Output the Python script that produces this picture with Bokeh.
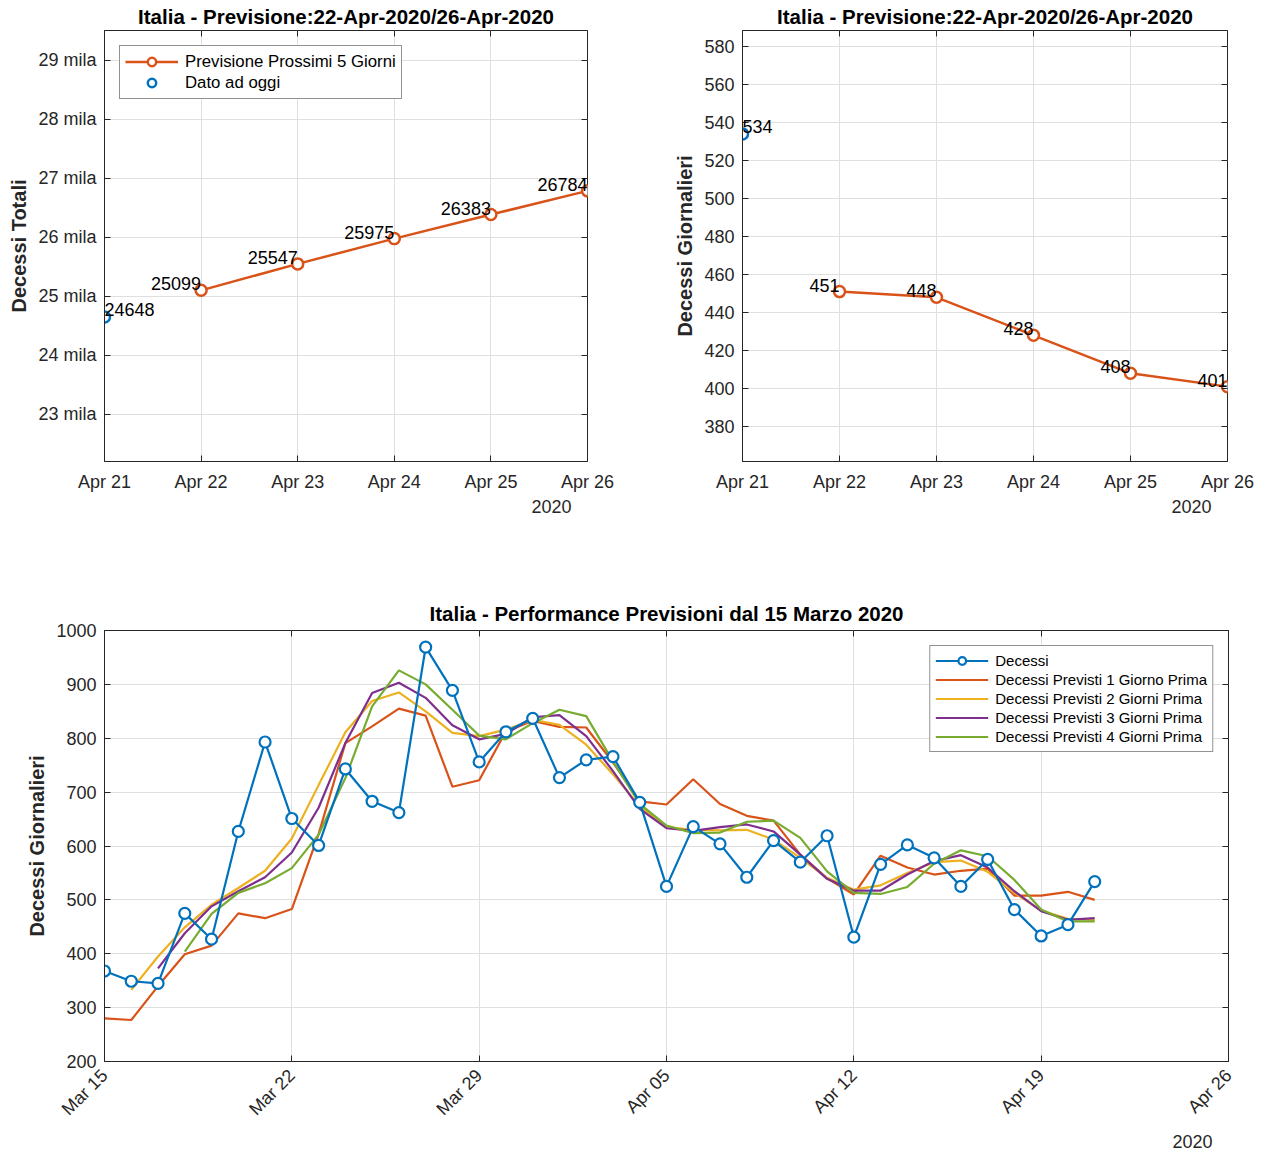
import math
import pandas as pd
from bokeh.plotting import figure
from bokeh.layouts import column, row
from bokeh.models import (ColumnDataSource, Range1d, FixedTicker, DatetimeTickFormatter,
                          LinearAxis, DatetimeAxis, Legend, LegendItem, LabelSet, Title,
                          CustomJSTickFormatter)
from bokeh.core.properties import value
from bokeh.embed import file_html
from bokeh.resources import INLINE

# ---------------- DATA ----------------
forecast_dates = ["2020-04-21", "2020-04-22", "2020-04-23", "2020-04-24", "2020-04-25", "2020-04-26"]
today_total = [24648]
forecast_total = [25099, 25547, 25975, 26383, 26784]
today_daily = [534]
forecast_daily = [451, 448, 428, 408, 401]

total_yticks = [23000, 24000, 25000, 26000, 27000, 28000, 29000]
total_ylabels = ["23 mila", "24 mila", "25 mila", "26 mila", "27 mila", "28 mila", "29 mila"]
daily_yticks = [380, 400, 420, 440, 460, 480, 500, 520, 540, 560, 580]

perf_last_day = "2020-04-21"
decessi = [368, 349, 345, 475, 427, 627, 793, 651, 601, 743, 683, 662, 969, 889, 756, 812, 837,
           727, 760, 766, 681, 525, 636, 604, 542, 610, 570, 619, 431, 566, 602, 578, 525, 575,
           482, 433, 454, 534]
prev1 = [280, 277, 340, 399, 415, 475, 466, 483, 622, 791, 822, 855, 842, 710, 722, 813, 832,
         821, 820, 755, 683, 677, 724, 678, 656, 647, 584, 540, 510, 582, 560, 547, 554, 558,
         508, 508, 515, 500]
prev2 = [333, 395, 449, 491, 522, 554, 614, 713, 811, 869, 885, 850, 810, 804, 816, 834,
         825, 788, 733, 674, 635, 630, 629, 630, 612, 578, 541, 519, 527, 550, 570, 573, 552,
         513, 480, 465, 463]
prev3 = [373, 438, 488, 516, 542, 588, 671, 791, 884, 903, 875, 824, 798, 808, 839,
         843, 804, 739, 669, 633, 628, 635, 640, 627, 584, 539, 517, 517, 547, 572, 583, 560,
         516, 479, 463, 466]
prev4 = [404, 474, 513, 531, 559, 621, 726, 859, 926, 900, 853, 805, 798, 828,
         853, 841, 757, 678, 638, 624, 625, 645, 647, 615, 553, 513, 511, 524, 567, 592, 581,
         537, 482, 460, 460]
perf_xticks = ["2020-03-15", "2020-03-22", "2020-03-29", "2020-04-05", "2020-04-12", "2020-04-19", "2020-04-26"]
perf_yticks = [200, 300, 400, 500, 600, 700, 800, 900, 1000]
perf_names = ["Decessi", "Decessi Previsti 1 Giorno Prima", "Decessi Previsti 2 Giorni Prima",
              "Decessi Previsti 3 Giorni Prima", "Decessi Previsti 4 Giorni Prima"]

# ---------------- STYLE ----------------
FONT = "Liberation Sans"
AXC = "#262626"
GRID = "#dfdfdf"
BLUE = "#0072BD"
ORANGE = "#D95319"
YELLOW = "#EDB120"
PURPLE = "#7E2F8E"
GREEN = "#77AC30"


def ms(d):
    return int(pd.Timestamp(d).value // 10**6)


def make_fig(title, xr, yr, fw, fh, bl, br, bt, bb, title_standoff):
    p = figure(x_axis_type="datetime", x_range=Range1d(ms(xr[0]), ms(xr[1])),
               y_range=Range1d(yr[0], yr[1]), frame_width=fw, frame_height=fh,
               min_border_left=bl, min_border_right=br, min_border_top=bt, min_border_bottom=bb,
               output_backend="svg", toolbar_location=None, title=title)
    p.title.text_font = FONT
    p.title.text_font_size = "20.5px"
    p.title.text_font_style = "bold"
    p.title.text_color = "black"
    p.title.align = "center"
    p.title.standoff = title_standoff
    p.outline_line_color = AXC
    p.outline_line_width = 1
    p.outline_line_alpha = 1
    p.background_fill_color = "white"
    p.border_fill_color = "white"
    return p


def style_axes(p, xticks, yticks, ylabel, yoverrides=None, rot=0, year_standoff=6):
    xt = FixedTicker(ticks=[ms(d) for d in xticks])
    yt = FixedTicker(ticks=yticks)
    p.xaxis.ticker = xt
    p.xaxis.formatter = DatetimeTickFormatter(days="%b %d", months="%b %d", years="%b %d",
                                              hours="%b %d", hourmin="%b %d")
    p.yaxis.ticker = yt
    if yoverrides:
        p.yaxis.major_label_overrides = yoverrides
    p.yaxis.axis_label = ylabel
    for ax in list(p.xaxis) + list(p.yaxis):
        ax.axis_line_color = AXC
        ax.major_tick_line_color = AXC
        ax.major_tick_in = 6
        ax.major_tick_out = 0
        ax.minor_tick_in = 0
        ax.minor_tick_out = 0
        ax.major_label_text_font = FONT
        ax.major_label_text_font_size = "18px"
        ax.major_label_text_color = AXC
        ax.major_label_standoff = 8
        ax.axis_label_text_font = FONT
        ax.axis_label_text_font_size = "20px"
        ax.axis_label_text_font_style = "bold"
        ax.axis_label_text_color = AXC
        ax.axis_label_standoff = 5
    p.xaxis.major_label_standoff = 10
    if rot:
        p.xaxis.major_label_orientation = rot
        p.xaxis.major_label_standoff = 11
    p.xgrid.grid_line_color = GRID
    p.ygrid.grid_line_color = GRID
    # tick marks on the top and right edges of the box
    top = DatetimeAxis(ticker=xt, formatter=CustomJSTickFormatter(code="return ''"))
    right = LinearAxis(ticker=yt, formatter=CustomJSTickFormatter(code="return ''"))
    for ax in (top, right):
        ax.axis_line_color = None
        ax.major_tick_line_color = AXC
        ax.major_tick_in = 6
        ax.major_tick_out = 0
        ax.minor_tick_in = 0
        ax.minor_tick_out = 0
        ax.major_label_text_font_size = "0px"
        ax.major_label_standoff = 0
    p.add_layout(top, "above")
    p.add_layout(right, "right")
    yr = Title(text="2020", align="right", offset=16, text_font=FONT, text_font_size="18px",
               text_font_style="normal", text_color=AXC, standoff=year_standoff)
    p.add_layout(yr, "below")


def style_legend(lg, font_size, row_h, pad):
    lg.label_text_font = FONT
    lg.label_text_font_size = font_size
    lg.label_text_color = "black"
    lg.border_line_color = AXC
    lg.border_line_width = 1
    lg.background_fill_color = "white"
    lg.background_fill_alpha = 1
    lg.padding = pad
    lg.spacing = 0
    lg.label_height = row_h
    lg.glyph_height = row_h
    lg.glyph_width = 53
    lg.label_standoff = 7
    lg.margin = 15


def forecast_panel(title, today_vals, fc_vals, yr, yticks, ylabel, overrides, bl, br, fw):
    p = make_fig(title, (forecast_dates[0], forecast_dates[-1]), yr, fw, 431, bl, br, 30, 65, 5)
    style_axes(p, forecast_dates, yticks, ylabel, overrides)
    s_today = ColumnDataSource(dict(x=pd.to_datetime(forecast_dates[:1]), y=today_vals,
                                    label=[str(v) for v in today_vals]))
    s_fc = ColumnDataSource(dict(x=pd.to_datetime(forecast_dates[1:]), y=fc_vals,
                                 label=[str(v) for v in fc_vals]))
    ln = p.line("x", "y", source=s_fc, line_color=ORANGE, line_width=2.5)
    mk = p.scatter("x", "y", source=s_fc, marker="circle", size=11, line_color=ORANGE,
                   fill_color="white", line_width=2.5)
    bt = p.scatter("x", "y", source=s_today, marker="circle", size=11, line_color=BLUE,
                   fill_color="white", line_width=2.5)
    p.add_layout(LabelSet(x="x", y="y", text="label", source=s_fc, text_align="right",
                          text_baseline="bottom", y_offset=0, text_font=value(FONT),
                          text_font_size=value("18px"), text_color="black"))
    p.add_layout(LabelSet(x="x", y="y", text="label", source=s_today, text_align="left",
                          text_baseline="bottom", y_offset=1, text_font=value(FONT),
                          text_font_size=value("18px"), text_color="black"))
    return p, ln, mk, bt


p1, ln1, mk1, bt1 = forecast_panel("Italia - Previsione:22-Apr-2020/26-Apr-2020", today_total,
                                   forecast_total, (22200, 29500), total_yticks, "Decessi Totali",
                                   dict(zip(total_yticks, total_ylabels)), 104, 40, 483)
lg1 = Legend(items=[LegendItem(label="Previsione Prossimi 5 Giorni", renderers=[ln1, mk1]),
                    LegendItem(label="Dato ad oggi", renderers=[bt1])],
             location="top_left")
style_legend(lg1, "16.8px", 21, 5)
p1.add_layout(lg1)

p2, ln2, mk2, bt2 = forecast_panel("Italia - Previsione:22-Apr-2020/26-Apr-2020", today_daily,
                                   forecast_daily, (361.6, 588.4), daily_yticks,
                                   "Decessi Giornalieri", None, 115, 31, 485)

# ---------------- PERFORMANCE PANEL ----------------
p3 = make_fig("Italia - Performance Previsioni dal 15 Marzo 2020", (perf_xticks[0], perf_xticks[-1]),
              (200, 1000), 1124, 431, 104, 30, 104, 0, 12)
style_axes(p3, perf_xticks, perf_yticks, "Decessi Giornalieri", None, rot=math.pi / 4,
           year_standoff=7)

series = [decessi, prev1, prev2, prev3, prev4]
colors = [BLUE, ORANGE, YELLOW, PURPLE, GREEN]
items = []
for name, vals, col in zip(perf_names, series, colors):
    dates = pd.date_range(end=perf_last_day, periods=len(vals))
    src = ColumnDataSource(dict(x=dates, y=vals))
    r = [p3.line("x", "y", source=src, line_color=col, line_width=2.2)]
    if col == BLUE:
        r.append(p3.scatter("x", "y", source=src, marker="circle", size=11, line_color=col,
                            fill_color="white", line_width=2.2))
    items.append(LegendItem(label=name, renderers=r))
# keep the measured series drawn on top
p3.renderers = p3.renderers[2:] + p3.renderers[:2]
lg3 = Legend(items=items, location="top_right")
style_legend(lg3, "15px", 19, 5)
p3.add_layout(lg3)

layout = column(row(p1, p2), p3)
open("out.html", "w").write(file_html(layout, INLINE))
